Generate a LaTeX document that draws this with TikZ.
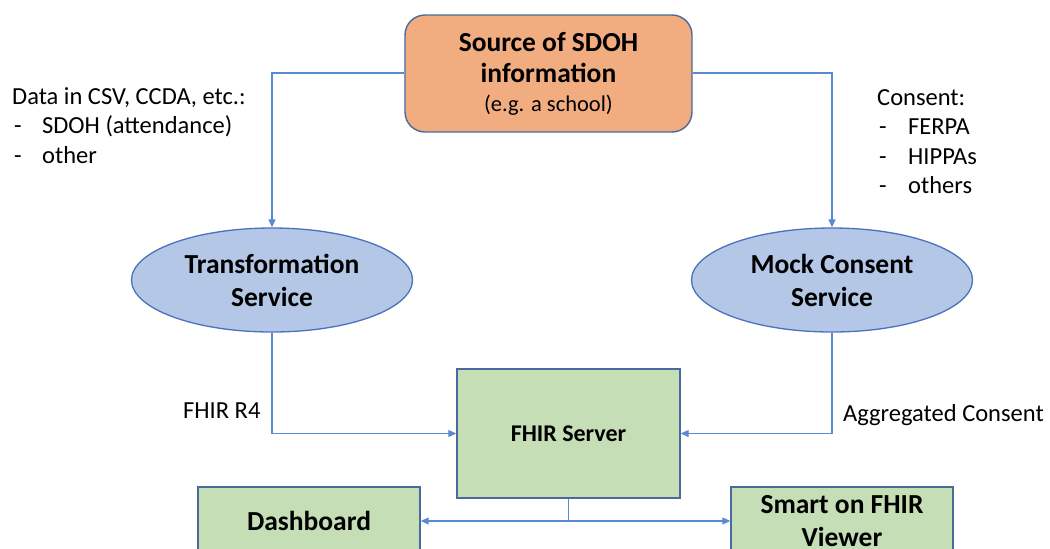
\documentclass[tikz,border=0pt]{standalone}
\usepackage{fontspec}
\setmainfont{Carlito}
\usetikzlibrary{shapes.geometric,arrows.meta}
\definecolor{linec}{HTML}{5B8AD4}
\definecolor{bordc}{HTML}{4A6A9C}
\definecolor{orfill}{HTML}{F1AD80}
\definecolor{blfill}{HTML}{B4C7E7}
\definecolor{blbord}{HTML}{4A72BC}
\definecolor{grfill}{HTML}{C5DEB5}
\definecolor{grbord}{HTML}{4A6A9C}
\begin{document}
\begin{tikzpicture}[x=1pt,y=-1pt,
  srcbox/.style={draw=bordc,fill=orfill,line width=1.4pt,rounded corners=20pt,
    minimum width=287pt,minimum height=117pt,align=center,inner sep=0pt,
    font=\fontsize{27.5}{31}\selectfont\bfseries},
  svc/.style={ellipse,draw=blbord,fill=blfill,line width=1.3pt,
    minimum width=281pt,minimum height=104pt,align=center,inner sep=0pt,
    font=\fontsize{27.5}{33}\selectfont\bfseries},
  grbox/.style={draw=grbord,fill=grfill,line width=1.4pt,align=center,inner sep=0pt},
  conn/.style={draw=linec,line width=1.1pt},
  arr/.style={conn,-{Triangle[length=8pt,width=7pt]}},
  lbl/.style={inner sep=0pt,font=\fontsize{24.5}{29.5}\selectfont}
]
\clip (0,0) rectangle (1050,549);
\fill[white] (0,0) rectangle (1050,549);

\node[srcbox] (src) at (548.5,73.5)
  {\raisebox{-2pt}{Source of SDOH}\\\raisebox{-2pt}{information}\\
   {\fontsize{22.5}{30}\selectfont\mdseries (e.g. a school)}};

\node[svc] (trans) at (272,280) {Transformation\\Service};
\node[svc] (cons) at (832,280) {Mock Consent\\Service};

\node[grbox,minimum width=223pt,minimum height=129pt,
  font=\fontsize{24}{28}\selectfont\bfseries] (fhir) at (568.5,433.5) {FHIR Server};
\node[grbox,minimum width=222pt,minimum height=68pt,
  font=\fontsize{27.5}{33}\selectfont\bfseries] (dash) at (309,521) {Dashboard};
\node[grbox,minimum width=222pt,minimum height=68pt,
  font=\fontsize{27.5}{33}\selectfont\bfseries] (smart) at (842,521) {Smart on FHIR\\Viewer};

\node[lbl,anchor=base west] (datalbl) at (12,104)
  {\begin{tabular}[t]{@{}l@{}}Data in CSV, CCDA, etc.:\\
   \makebox[30pt][l]{\hspace{2pt}-}SDOH (attendance)\\
   \makebox[30pt][l]{\hspace{2pt}-}other\end{tabular}};
\node[lbl,anchor=base west] (conslbl) at (877,105)
  {\begin{tabular}[t]{@{}l@{}}Consent:\\
   \makebox[31pt][l]{\hspace{2pt}-}FERPA\\
   \makebox[31pt][l]{\hspace{2pt}-}HIPPAs\\
   \makebox[31pt][l]{\hspace{2pt}-}others\end{tabular}};

\node[lbl,anchor=base west] (r4) at (183,418) {FHIR R4};
\node[lbl,anchor=base west] (agg) at (843,421) {Aggregated Consent};

\draw[arr] (src.west |- 0,73) -| (trans.north);
\draw[arr] (src.east |- 0,73) -| (cons.north);
\draw[arr] (trans.south) |- (fhir.west);
\draw[arr] (cons.south) |- (fhir.east);
\coordinate (j) at (fhir.south |- dash.east);
\draw[conn] (fhir.south) -- (j);
\draw[arr] (j) -- (dash.east);
\draw[arr] (j) -- (smart.west);
\end{tikzpicture}
\end{document}
